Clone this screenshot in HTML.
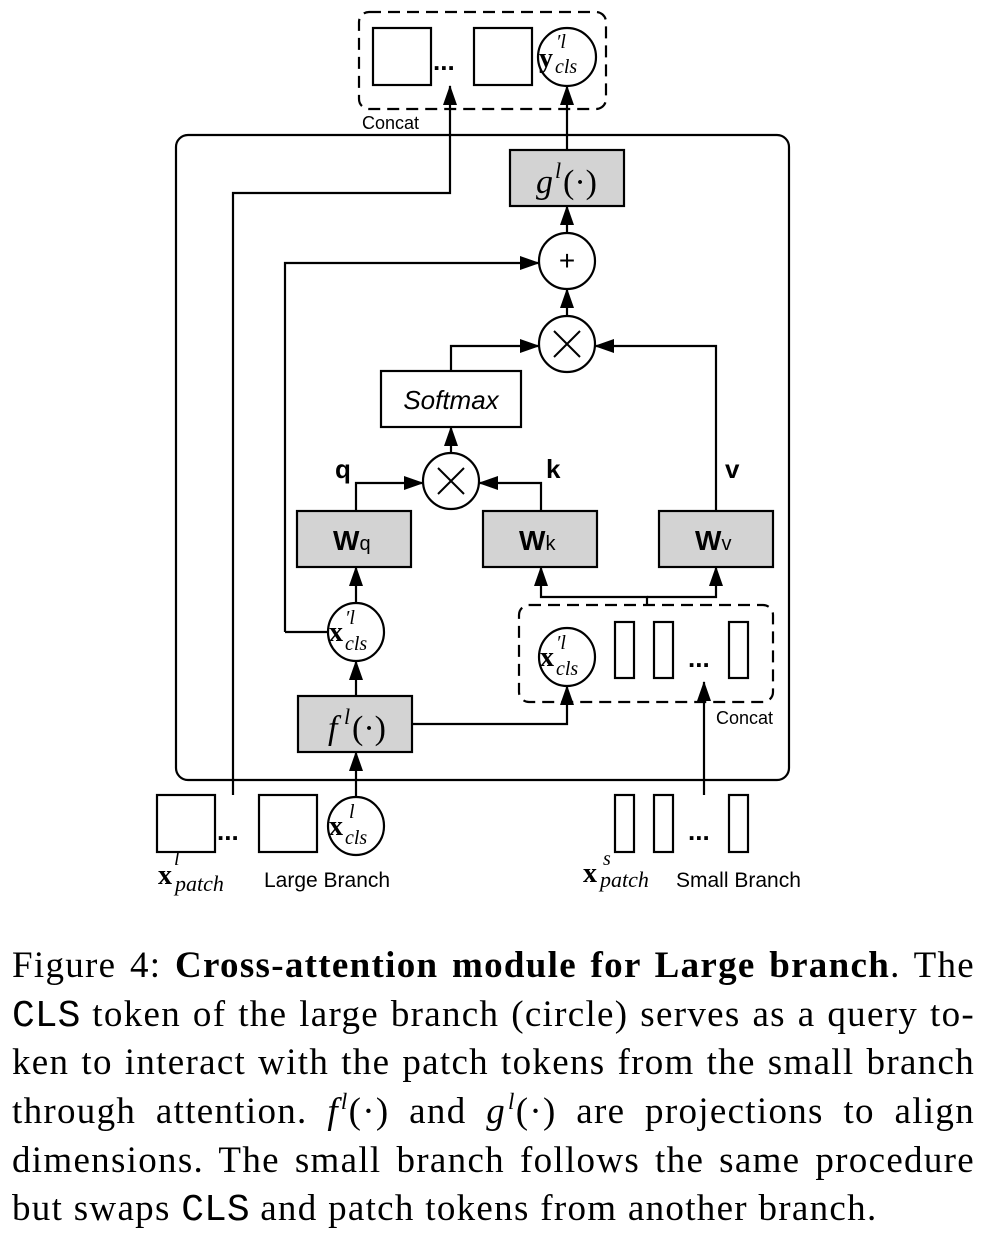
<!DOCTYPE html>
<html><head><meta charset="utf-8"><style>
body{margin:0;background:#fff;width:985px;height:1245px;overflow:hidden;position:relative}
svg{position:absolute;left:0;top:0}
.cap{position:absolute;left:12px;top:942px;width:963px;font-family:"Liberation Serif",serif;font-size:37px;letter-spacing:1.3px;color:#000}
.cap div{height:48.7px;line-height:48.7px;white-space:nowrap;text-align:justify;text-align-last:justify}
.cap div.l{text-align-last:left}
.m{font-family:"Liberation Mono",monospace;font-size:38px;letter-spacing:0}
sup{font-size:23px;line-height:0;vertical-align:0;position:relative;top:-14px;margin-left:2px}
</style></head><body>
<svg width="985" height="940" viewBox="0 0 985 940">
<defs>
<marker id="b" markerWidth="20" markerHeight="16" refX="19" refY="8" orient="auto" markerUnits="userSpaceOnUse" viewBox="0 0 20 16"><path d="M0,1L20,8L0,15z" fill="#000"/></marker></defs>
<g fill="none" stroke="#000" stroke-width="2.2">
<rect x="359" y="12" width="247" height="97" rx="10" stroke-dasharray="12,7"/>
<rect x="176" y="135" width="613" height="645" rx="12"/>
<rect x="519" y="605" width="254" height="97" rx="10" stroke-dasharray="12,7"/>
<rect x="373" y="28" width="58" height="57"/><rect x="474" y="28" width="58" height="57"/>
<circle cx="567" cy="57" r="29"/>
<rect x="510" y="150" width="114" height="56" fill="#d3d3d3"/>
<circle cx="567" cy="261" r="28"/><circle cx="567" cy="344" r="28"/>
<rect x="381" y="371" width="140" height="56" fill="#fff"/>
<circle cx="451" cy="481" r="28"/>
<rect x="297" y="511" width="114" height="56" fill="#d3d3d3"/>
<rect x="483" y="511" width="114" height="56" fill="#d3d3d3"/>
<rect x="659" y="511" width="114" height="56" fill="#d3d3d3"/>
<ellipse cx="356" cy="632" rx="28" ry="29"/>
<ellipse cx="567" cy="657" rx="28" ry="29"/>
<rect x="615" y="622" width="19" height="56"/><rect x="654" y="622" width="19" height="56"/><rect x="729" y="622" width="19" height="56"/>
<rect x="298" y="696" width="114" height="56" fill="#d3d3d3"/>
<rect x="157" y="795" width="58" height="57"/><rect x="259" y="795" width="58" height="57"/>
<ellipse cx="356" cy="826" rx="28" ry="29"/>
<rect x="615" y="795" width="19" height="57"/><rect x="654" y="795" width="19" height="57"/><rect x="729" y="795" width="19" height="57"/>
<g marker-end="url(#b)">
<path d="M567,150V86"/>
<path d="M233,795V193H450V86"/>
<path d="M567,233V206"/>
<path d="M285,632V263H539"/>
<path d="M567,316V289"/>
<path d="M451,371V346H539"/>
<path d="M716,511V346H595"/>
<path d="M451,453V427"/>
<path d="M356,511V483H423"/>
<path d="M541,511V483H479"/>
<path d="M356,603V567"/>
<path d="M647,605V597H541V567"/>
<path d="M647,597H716V567"/>
<path d="M356,696V661"/>
<path d="M412,724H567V686"/>
<path d="M356,797V752"/>
<path d="M704,795V682"/>
</g>
<path d="M285,632H328"/>
</g>
<g font-family="Liberation Sans,sans-serif" fill="#000">
<text x="433" y="70" font-size="26" font-weight="bold">...</text>
<text x="217" y="840" font-size="26" font-weight="bold">...</text>
<text x="688" y="667" font-size="26" font-weight="bold">...</text>
<text x="688" y="840" font-size="26" font-weight="bold">...</text>
<text x="362" y="129" font-size="18">Concat</text>
<text x="716" y="724" font-size="18">Concat</text>
<text x="264" y="887" font-size="21">Large Branch</text>
<text x="676" y="887" font-size="21">Small Branch</text>
<text x="451" y="409" font-size="26" font-style="italic" text-anchor="middle">Softmax</text>
<text x="335" y="478" font-size="26" font-weight="bold">q</text>
<text x="546" y="478" font-size="26" font-weight="bold">k</text>
<text x="725" y="478" font-size="26" font-weight="bold">v</text>
<text x="333" y="550" font-size="28" font-weight="bold">W<tspan font-weight="normal" font-size="20">q</tspan></text>
<text x="519" y="550" font-size="28" font-weight="bold">W<tspan font-weight="normal" font-size="20">k</tspan></text>
<text x="695" y="550" font-size="28" font-weight="bold">W<tspan font-weight="normal" font-size="20">v</tspan></text>
<text x="567" y="270" font-size="28" text-anchor="middle">+</text>
</g>
<g stroke="#000" stroke-width="2"><path d="M554,331L580,357M580,331L554,357"/><path d="M438,468L464,494M464,468L438,494"/></g>
<g font-family="Liberation Serif,serif" fill="#000">
<text x="536" y="193" font-size="34" font-style="italic">g</text><text x="555" y="178" font-size="22" font-style="italic">l</text><text x="563" y="193" font-size="34">(·)</text>
<text x="328" y="739" font-size="34" font-style="italic">f</text><text x="344" y="724" font-size="22" font-style="italic">l</text><text x="352" y="739" font-size="34">(·)</text>
<text x="539" y="67" font-size="28" font-weight="bold">y</text><text x="556" y="48" font-size="20" font-style="italic">′l</text><text x="555" y="73" font-size="20" font-style="italic">cls</text>
<text x="329" y="641" font-size="28" font-weight="bold">x</text><text x="345" y="624" font-size="20" font-style="italic">′l</text><text x="345" y="650" font-size="20" font-style="italic">cls</text>
<text x="540" y="666" font-size="28" font-weight="bold">x</text><text x="556" y="649" font-size="20" font-style="italic">′l</text><text x="556" y="675" font-size="20" font-style="italic">cls</text>
<text x="329" y="835" font-size="28" font-weight="bold">x</text><text x="349" y="818" font-size="20" font-style="italic">l</text><text x="345" y="844" font-size="20" font-style="italic">cls</text>
<text x="158" y="884" font-size="28" font-weight="bold">x</text><text x="174" y="865" font-size="20" font-style="italic">l</text><text x="175" y="891" font-size="22" font-style="italic">patch</text>
<text x="583" y="882" font-size="28" font-weight="bold">x</text><text x="603" y="865" font-size="20" font-style="italic">s</text><text x="600" y="887" font-size="22" font-style="italic">patch</text>
</g>
</svg>
<div class="cap">
<div>Figure 4: <b>Cross-attention module for Large branch</b>. The</div>
<div><span class="m">CLS</span> token of the large branch (circle) serves as a query to-</div>
<div>ken to interact with the patch tokens from the small branch</div>
<div>through attention. <i>f</i><sup><i>l</i></sup>(·) and <i>g</i><sup><i>l</i></sup>(·) are projections to align</div>
<div>dimensions. The small branch follows the same procedure</div>
<div class="l">but swaps <span class="m">CLS</span> and patch tokens from another branch.</div>
</div>
</body></html>
